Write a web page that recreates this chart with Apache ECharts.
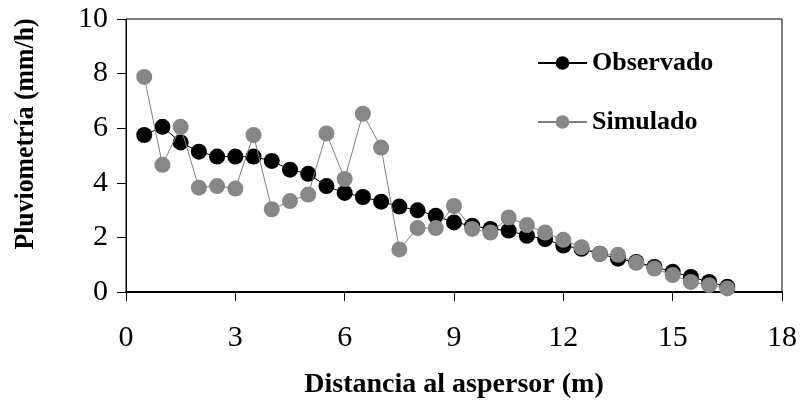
<!DOCTYPE html>
<html>
<head>
<meta charset="utf-8">
<script src="https://cdn.jsdelivr.net/npm/echarts@6/dist/echarts.min.js"></script>
<style>html,body{margin:0;padding:0;background:#fff}#c{width:800px;height:404px}</style>
</head>
<body>
<div id="c"></div>
<script>
const distances = [0.5,1,1.5,2,2.5,3,3.5,4,4.5,5,5.5,6,6.5,7,7.5,8,8.5,9,9.5,10,10.5,11,11.5,12,12.5,13,13.5,14,14.5,15,15.5,16,16.5];
const observado = [5.75,6.05,5.48,5.14,4.96,4.96,4.96,4.80,4.48,4.33,3.88,3.63,3.48,3.31,3.13,2.99,2.79,2.55,2.43,2.31,2.25,2.06,1.94,1.70,1.58,1.40,1.22,1.10,0.92,0.74,0.55,0.37,0.19];
const simulado = [7.88,4.66,6.05,3.82,3.88,3.79,5.75,3.03,3.33,3.57,5.81,4.14,6.53,5.29,1.56,2.34,2.34,3.15,2.31,2.18,2.73,2.45,2.18,1.91,1.64,1.40,1.36,1.07,0.86,0.62,0.37,0.25,0.13];
const seriesNames = ['Observado','Simulado'];
const xTitle = 'Distancia al aspersor (m)';
const yTitle = 'Pluviometría (mm/h)';

const FONT = '"Liberation Serif", "Times New Roman", serif';
const chart = echarts.init(document.getElementById('c'), null, {renderer:'canvas'});
chart.setOption({
  animation: false,
  backgroundColor: '#fff',
  grid: {left:126, right:16, top:19, bottom:109, show:true, borderColor:'#000', borderWidth:1},
  legend: {
    orient:'vertical', left:532, top:45, itemWidth:49, itemHeight:17, itemGap:33,
    data: seriesNames,
    textStyle:{fontFamily:FONT, fontWeight:'bold', fontSize:26, color:'#000'}
  },
  xAxis: {
    type:'value', min:0, max:18, interval:3,
    name: xTitle, nameLocation:'middle', nameGap:79,
    nameTextStyle:{fontFamily:FONT, fontWeight:'bold', fontSize:28, color:'#000'},
    axisLine:{show:true, lineStyle:{color:'#000', width:2}},
    axisTick:{show:true, inside:false, length:9, lineStyle:{color:'#000'}},
    axisLabel:{fontFamily:FONT, fontSize:30, color:'#000', margin:31},
    splitLine:{show:false}
  },
  yAxis: {
    type:'value', min:0, max:10, interval:2,
    axisLine:{show:true, lineStyle:{color:'#000', width:1}},
    axisTick:{show:true, inside:false, length:9, lineStyle:{color:'#000'}},
    axisLabel:{fontFamily:FONT, fontSize:30, color:'#000', margin:18},
    splitLine:{show:false}
  },
  graphic: [{
    type:'text', x:26, y:134, rotation:Math.PI/2, scaleX:0.92,
    style:{text:yTitle, fontFamily:FONT, fontWeight:'bold', fontSize:28, fill:'#000', align:'center', verticalAlign:'middle'}
  }],
  series: [
    {
      name: seriesNames[0], type:'line', z:2,
      data: distances.map((d,i)=>[d, observado[i]]),
      symbol:'circle', symbolSize:16, showAllSymbol:true,
      itemStyle:{color:'#000'},
      lineStyle:{color:'#000', width:1}
    },
    {
      name: seriesNames[1], type:'line', z:3,
      data: distances.map((d,i)=>[d, simulado[i]]),
      symbol:'circle', symbolSize:16, showAllSymbol:true,
      itemStyle:{color:'#878787'},
      lineStyle:{color:'#808080', width:1}
    }
  ]
});
</script>
</body>
</html>
